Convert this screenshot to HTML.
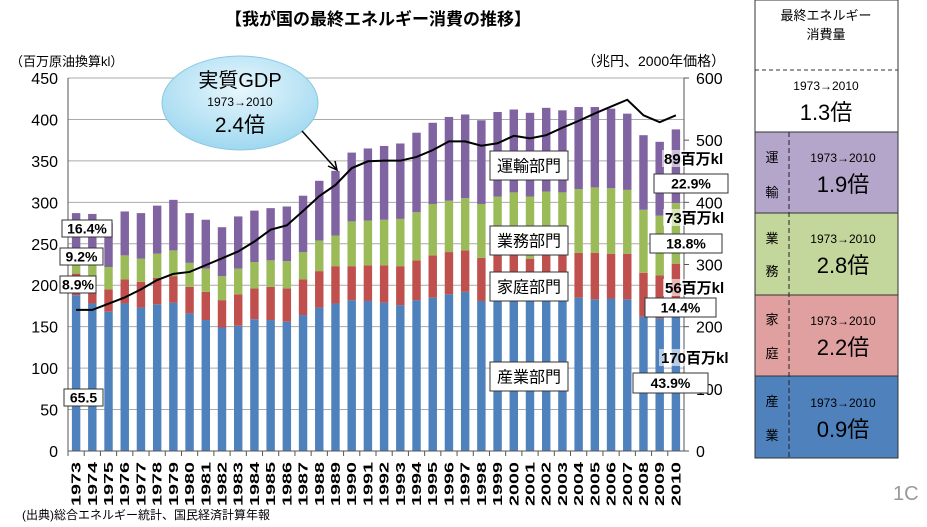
<!DOCTYPE html>
<html><head><meta charset="utf-8">
<style>
body{margin:0;background:#fff;width:927px;height:522px;overflow:hidden;font-family:"Liberation Sans","Noto Sans CJK JP",sans-serif;}
svg text{font-family:"Liberation Sans","Noto Sans CJK JP",sans-serif;}
</style></head>
<body>
<svg id="chart" width="927" height="522">
<defs>
<radialGradient id="eg" cx="50%" cy="35%" r="65%"><stop offset="0" stop-color="#e8f7fd"/><stop offset="1" stop-color="#9fd8f0"/></radialGradient>
</defs>
<text x="378" y="25" text-anchor="middle" font-size="17" font-weight="bold">【我が国の最終エネルギー消費の推移】</text>
<text x="10" y="66" font-size="13">（百万原油換算kl）</text>
<text x="582" y="66" font-size="14">（兆円、2000年価格）</text>
<g id="grid"></g><g id="bars"></g><g id="axes"></g>
<polyline id="gdp" fill="none" stroke="#000" stroke-width="2"/>
<g id="labels"></g>
<ellipse cx="240" cy="103" rx="78" ry="47" fill="url(#eg)" stroke="#8cc8e0"/>
<text x="240" y="87" text-anchor="middle" font-size="20">実質GDP</text>
<text x="240" y="106" text-anchor="middle" font-size="12">1973→2010</text>
<text x="240" y="132" text-anchor="middle" font-size="21">2.4倍</text>
<line x1="302" y1="131" x2="337" y2="170" stroke="#000" stroke-width="1.5"/>
<polyline points="328,166 337,170 335,161" fill="none" stroke="#000" stroke-width="1.5"/>
<g>
<rect x="755" y="0" width="143" height="132" fill="#fff" stroke="#333"/>
<line x1="755" y1="70" x2="898" y2="70" stroke="#333" stroke-dasharray="4,3"/>
<text x="826" y="20" text-anchor="middle" font-size="13">最終エネルギー</text>
<text x="826" y="39" text-anchor="middle" font-size="13">消費量</text>
<text x="826" y="90" text-anchor="middle" font-size="12">1973→2010</text>
<text x="826" y="120" text-anchor="middle" font-size="22">1.3倍</text>
<rect x="755" y="132" width="143" height="81" fill="#b4a6cb" stroke="#333"/>
<rect x="755" y="213" width="143" height="82" fill="#c3d69b" stroke="#333"/>
<rect x="755" y="295" width="143" height="81" fill="#e0a0a0" stroke="#333"/>
<rect x="755" y="376" width="143" height="82" fill="#4f81bd" stroke="#333"/>
<line x1="789" y1="132" x2="789" y2="458" stroke="#222" stroke-dasharray="5,3"/>
<text x="772" y="162" text-anchor="middle" font-size="13">運</text><text x="772" y="197" text-anchor="middle" font-size="13">輸</text>
<text x="843" y="162" text-anchor="middle" font-size="12">1973→2010</text><text x="843" y="192" text-anchor="middle" font-size="22">1.9倍</text>
<text x="772" y="243" text-anchor="middle" font-size="13">業</text><text x="772" y="276" text-anchor="middle" font-size="13">務</text>
<text x="843" y="243" text-anchor="middle" font-size="12">1973→2010</text><text x="843" y="273" text-anchor="middle" font-size="22">2.8倍</text>
<text x="772" y="324" text-anchor="middle" font-size="13">家</text><text x="772" y="358" text-anchor="middle" font-size="13">庭</text>
<text x="843" y="325" text-anchor="middle" font-size="12">1973→2010</text><text x="843" y="355" text-anchor="middle" font-size="22">2.2倍</text>
<text x="772" y="406" text-anchor="middle" font-size="13">産</text><text x="772" y="440" text-anchor="middle" font-size="13">業</text>
<text x="843" y="407" text-anchor="middle" font-size="12">1973→2010</text><text x="843" y="437" text-anchor="middle" font-size="22">0.9倍</text>
</g>
<text x="893" y="500" font-size="20" fill="#999">1C</text>
<text x="22" y="519" font-size="12">(出典)総合エネルギー統計、国民経済計算年報</text>
</svg>
<script>
const years=[1973,1974,1975,1976,1977,1978,1979,1980,1981,1982,1983,1984,1985,1986,1987,1988,1989,1990,1991,1992,1993,1994,1995,1996,1997,1998,1999,2000,2001,2002,2003,2004,2005,2006,2007,2008,2009,2010];
const industry=[188,178,168,178,173,177,179,166,158,149,151,159,158,156,164,173,178,182,181,179,176,182,185,189,192,181,185,186,182,186,185,185,183,184,183,162,160,170];
const household=[26,25,27,29,31,32,32,32,34,33,38,37,40,40,43,44,45,41,43,45,47,48,51,51,50,52,53,52,50,52,53,54,56,54,55,53,52,56];
const business=[26,28,27,29,28,29,31,29,28,29,31,32,32,33,33,37,37,54,54,55,57,58,62,62,63,65,69,74,75,75,74,77,79,79,77,76,72,73];
const transport=[47,55,53,53,55,58,61,60,59,59,63,62,63,66,68,72,78,83,87,89,91,96,98,101,101,101,102,100,101,101,99,99,97,96,92,90,89,89];
const gdp=[227,227,237,247,260,275,285,288,299,310,321,337,356,363,386,410,428,455,466,467,467,473,484,498,498,491,495,507,503,508,520,531,543,554,565,540,529,540];
const leftTicks=[0,50,100,150,200,250,300,350,400,450];
const rightTicks=[0,100,200,300,400,500,600];
const colors=["#4f81bd","#c0504d","#9bbb59","#8064a2"];
const X0=68,X1=684,Y0=451,Y1=78;
const ns="http://www.w3.org/2000/svg";
const step=(X1-X0)/years.length;
const xc=i=>X0+step*(i+0.5);
const yL=v=>Y0-(v/450)*(Y0-Y1);
const yR=v=>Y0-(v/600)*(Y0-Y1);
function mk(tag,attrs,parent){const e=document.createElementNS(ns,tag);for(const k in attrs)e.setAttribute(k,attrs[k]);parent.appendChild(e);return e;}
const grid=document.getElementById('grid'),bars=document.getElementById('bars'),axes=document.getElementById('axes');
leftTicks.forEach(t=>{
 const l=mk('line',{x1:X0,x2:X1,y1:yL(t),y2:yL(t),stroke:'#aaa'},grid);
 
 
 const tx=mk('text',{x:X0-10,y:yL(t)+6,'text-anchor':'end','font-size':16},axes);tx.textContent=t;
 
 
});
rightTicks.forEach(t=>{
 mk('line',{x1:X1,x2:X1+5,y1:yR(t),y2:yR(t),stroke:'#555'},axes);
 const tx=mk('text',{x:X1+12,y:yR(t)+6,'font-size':16},axes);tx.textContent=t;
 
 
});
mk('line',{x1:X0,x2:X0,y1:Y1,y2:Y0,stroke:'#555'},axes);
mk('line',{x1:X1,x2:X1,y1:Y1,y2:Y0,stroke:'#555'},axes);
mk('line',{x1:X0,x2:X1,y1:Y0,y2:Y0,stroke:'#555'},axes);
const series=[industry,household,business,transport];
const sname=['industry','household','business','transport'];
years.forEach((yr,i)=>{
 let base=0;const bw=step*0.52;
 series.forEach((s,k)=>{
  const r=mk('rect',{x:xc(i)-bw/2,y:yL(base+s[i]),width:bw,height:yL(base)-yL(base+s[i]),fill:colors[k]},bars);
  
  
  base+=s[i];
 });
 mk('line',{x1:X0+step*i,x2:X0+step*i,y1:Y0,y2:Y0+5,stroke:'#555'},axes);
 const tx=mk('text',{transform:`translate(${xc(i)+4.5},${Y0+11}) rotate(-90)`,'text-anchor':'end','font-size':13,'font-weight':'bold',textLength:44,lengthAdjust:'spacingAndGlyphs'},axes);
 tx.textContent=yr;
 
 
});
document.getElementById('gdp').setAttribute('points',gdp.map((v,i)=>xc(i)+','+yR(v)).join(' '));
const lab=document.getElementById('labels');
function box(x,y,w,h,txt,fs,name,bold){
 const g=mk('g',{},lab);
 
 
 mk('rect',{x:x,y:y,width:w,height:h,fill:'#fff',stroke:'#333'},g);
 const t=mk('text',{x:x+w/2,y:y+h/2+fs*0.36,'text-anchor':'middle','font-size':fs,'font-weight':bold?'bold':'normal'},g);t.textContent=txt;
}
function plain(x,y,txt,name){
 mk('rect',{x:x-2,y:y-14,width:txt.length*10+4,height:17,fill:'rgba(255,255,255,0.6)'},lab);
 const t=mk('text',{x:x,y:y,'font-size':15,'font-weight':'bold'},lab);t.textContent=txt;
 
 
}
box(62,220,50,17,'16.4%',14,'share-transport-1973',true);
box(60,248,43,17,'9.2%',14,'share-business-1973',true);
box(60,276,36,17,'8.9%',14,'share-household-1973',true);
box(64,389,39,17,'65.5',14,'share-industry-1973',true);
box(490,151,78,29,'運輸部門',16,'label-transport');
box(490,226,78,29,'業務部門',16,'label-business');
box(490,272,78,29,'家庭部門',16,'label-household');
box(490,362,78,29,'産業部門',16,'label-industry');
plain(664,164,'89百万kl','value-transport-2010');
box(654,174,74,19,'22.9%',14,'share-transport-2010',true);
plain(665,223,'73百万kl','value-business-2010');
box(650,234,72,19,'18.8%',14,'share-business-2010',true);
plain(665,293,'56百万kl','value-household-2010');
box(645,298,71,19,'14.4%',14,'share-household-2010',true);
plain(661,363,'170百万kl','value-industry-2010');
box(633,373,75,20,'43.9%',14,'share-industry-2010',true);
</script>
</body></html>
